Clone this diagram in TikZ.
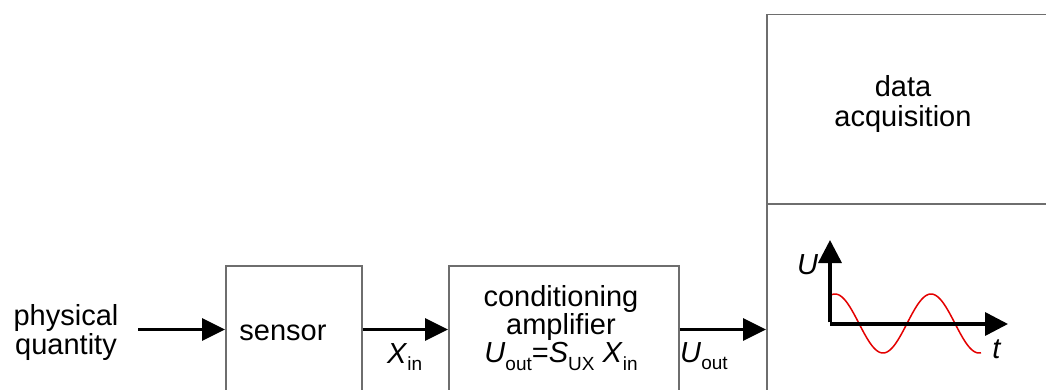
\documentclass[tikz,border=0pt]{standalone}
\usepackage{fontspec}
\setmainfont{Liberation Sans}
\usetikzlibrary{arrows.meta}
% lowered, smaller index text
\newcommand\lowsub[1]{\raisebox{-0.25em}{\fontsize{19}{19}\selectfont #1}}
\definecolor{boxline}{RGB}{110,110,110}
\definecolor{wave}{RGB}{228,0,0}
\begin{document}
\begin{tikzpicture}[x=1pt,y=-1pt,
  txt/.style={font=\fontsize{29}{28}\selectfont, inner sep=0pt, align=center},
  blockbox/.style={draw=boxline, line width=1.5pt},
  flow/.style={line width=3.5pt, -{Triangle[length=23pt,width=22pt]}},
  axis/.style={line width=3.5pt, -{Triangle[length=23pt,width=23pt]}}]
  \clip (0,0) rectangle (1046,390);
  \fill[white] (0,0) rectangle (1046,390);

  % blocks
  \node[blockbox, anchor=north west, minimum width=136pt, minimum height=150pt, inner sep=0pt] (sensor) at (225,265) {};
  \node[blockbox, anchor=north west, minimum width=230pt, minimum height=150pt, inner sep=0pt] (amp) at (448,265) {};
  \node[blockbox, anchor=north west, minimum width=320pt, minimum height=400pt, inner sep=0pt] (daq) at (766,14) {};
  \draw[draw=boxline, line width=1.5pt] (766,204) coordinate (divl) -- (1090,204) coordinate (divr);

  % texts
  \node[txt, font=\fontsize{29}{26}\selectfont] (phys) at (66,332.5) {physical\\quantity};
  \node[txt, anchor=base] (sensortxt) at (283,340) {sensor};
  \node[txt] (amptxt) at (561,328) {conditioning\\amplifier\\\textit{U}\lowsub{out}=\textit{S}\lowsub{UX} \textit{X}\lowsub{in}};
  \node[txt, font=\fontsize{29}{30}\selectfont] (daqtxt) at (903,104.5) {data\\acquisition};

  % signal flow
  \coordinate (start) at (138,329.5);
  \draw[flow] (start) -- (start -| sensor.west);
  \draw[flow] (start -| sensor.east) -- (start -| amp.west);
  \draw[flow] (start -| amp.east) -- (start -| daq.west);
  \node[txt, anchor=base west] (xin) at (387,363) {\textit{X}\lowsub{in}};
  \node[txt, anchor=base west] (uout) at (680,362) {\textit{U}\lowsub{out}};

  % signal plot: cosine with a period of 96
  \coordinate (o) at (830,324);
  \coordinate (utip) at (830,240);
  \coordinate (ttip) at (1008,324);
  \draw[wave, line width=1.5pt] plot[domain=830:981, samples=120, smooth] (\x, {323.5 - 29.5*cos(3.75*(\x-835))});
  \draw[axis] ([yshift=1.75pt]o) -- (utip);
  \draw[axis] (o) -- (ttip);
  \node[txt, anchor=base west] (ulab) at (797,274) {\textit{U}};
  \node[txt, anchor=base] (tlab) at (997,358) {\textit{t}};
\end{tikzpicture}
\end{document}
